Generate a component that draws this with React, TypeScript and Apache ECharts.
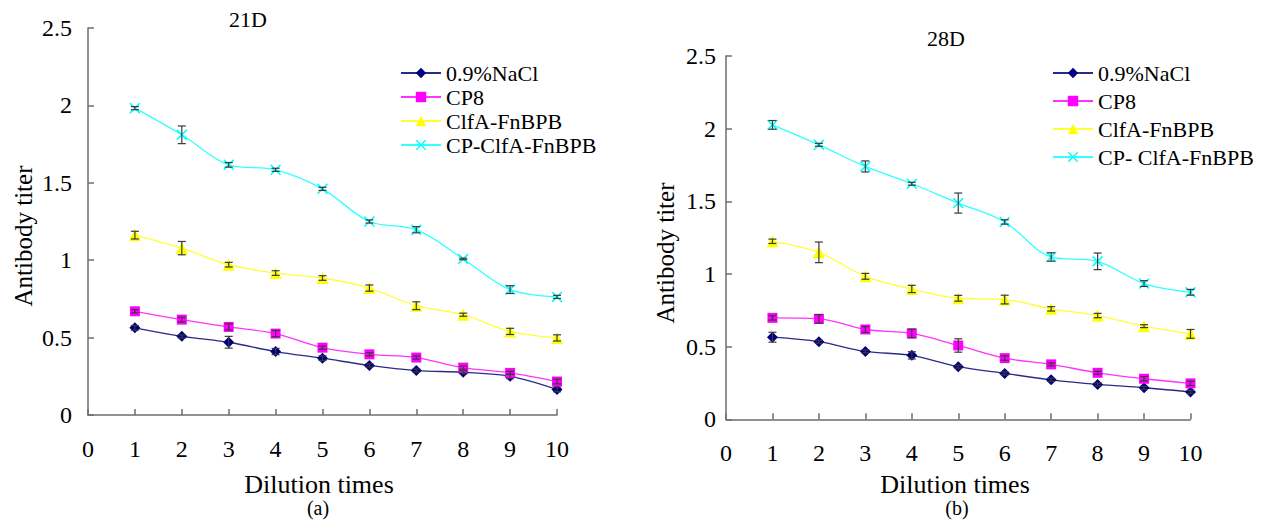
import React, { useEffect, useRef } from "react";
import * as echarts from "echarts";

const dilution = [1, 2, 3, 4, 5, 6, 7, 8, 9, 10];
const xTicks = [0, 1, 2, 3, 4, 5, 6, 7, 8, 9, 10];
const yTicks = [0, 0.5, 1, 1.5, 2, 2.5];

const namesLeft = ["0.9%NaCl", "CP8", "ClfA-FnBPB", "CP-ClfA-FnBPB"];
const namesRight = ["0.9%NaCl", "CP8", "ClfA-FnBPB", "CP- ClfA-FnBPB"];

// 21D
const naCl21 = [0.563, 0.508, 0.47, 0.41, 0.367, 0.32, 0.287, 0.276, 0.25, 0.165];
const cp8_21 = [0.67, 0.616, 0.569, 0.526, 0.435, 0.392, 0.371, 0.306, 0.272, 0.216];
const clfa21 = [1.162, 1.078, 0.971, 0.917, 0.885, 0.82, 0.706, 0.648, 0.54, 0.498];
const cpClfa21 = [1.982, 1.81, 1.616, 1.584, 1.461, 1.25, 1.197, 1.008, 0.81, 0.763];
const naClErr21 = [0.015, 0.01, 0.038, 0.02, 0.015, 0.01, 0.01, 0.01, 0.015, 0.015];
const cp8Err21 = [0.01, 0.015, 0.02, 0.02, 0.01, 0.01, 0.01, 0.01, 0.01, 0.015];
const clfaErr21 = [0.025, 0.043, 0.015, 0.015, 0.015, 0.02, 0.025, 0.01, 0.02, 0.02];
const cpClfaErr21 = [0.01, 0.057, 0.015, 0.01, 0.01, 0.01, 0.02, 0.005, 0.025, 0.01];

// 28D
const naCl28 = [0.565, 0.534, 0.467, 0.44, 0.362, 0.316, 0.272, 0.24, 0.217, 0.188];
const cp8_28 = [0.698, 0.691, 0.618, 0.591, 0.508, 0.421, 0.378, 0.32, 0.279, 0.247];
const clfa28 = [1.225, 1.149, 0.984, 0.897, 0.833, 0.824, 0.76, 0.714, 0.641, 0.588];
const cpClfa28 = [2.026, 1.889, 1.74, 1.621, 1.488, 1.358, 1.117, 1.087, 0.934, 0.874];
const naClErr28 = [0.034, 0.01, 0.01, 0.025, 0.01, 0.01, 0.01, 0.01, 0.01, 0.01];
const cp8Err28 = [0.015, 0.03, 0.02, 0.03, 0.046, 0.015, 0.01, 0.01, 0.015, 0.015];
const clfaErr28 = [0.015, 0.071, 0.02, 0.025, 0.02, 0.03, 0.015, 0.015, 0.01, 0.03];
const cpClfaErr28 = [0.03, 0.01, 0.038, 0.01, 0.069, 0.015, 0.029, 0.057, 0.02, 0.02];

const FONT = "'Liberation Serif', 'Times New Roman', serif";
const colors = ["#000080", "#ff00ff", "#ffff00", "#00ffff"];
const lineColors = ["#2a2a8a", "#ff33ff", "#ffff33", "#33ffff"];
const xSym = "path://M0,1 L1,0 L5,4 L9,0 L10,1 L6,5 L10,9 L9,10 L5,6 L1,10 L0,9 L4,5 Z";
const symbols = ["diamond", "rect", "triangle", xSym];
const symbolSizes = [11, 10, 12, 11];

function lineSeries(name: string, idx: number, values: number[], axis: number) {
  return {
    type: "line",
    name,
    xAxisIndex: axis,
    yAxisIndex: axis,
    data: dilution.map((d, i) => [d, values[i]]),
    smooth: 0.35,
    symbol: symbols[idx],
    symbolSize: symbolSizes[idx],
    showAllSymbol: true,
    lineStyle: { color: lineColors[idx], width: 1.3 },
    itemStyle: { color: colors[idx] },
    z: 2,
  };
}

function errSeries(values: number[], errs: number[], axis: number) {
  return {
    type: "custom",
    xAxisIndex: axis,
    yAxisIndex: axis,
    data: dilution.map((d, i) => [d, values[i], errs[i]]),
    encode: { x: 0, y: 1 },
    z: 4,
    silent: true,
    renderItem: (params: any, api: any) => {
      const x = api.value(0);
      const y = api.value(1);
      const e = api.value(2);
      const top = api.coord([x, y + e]);
      const bot = api.coord([x, y - e]);
      const st = { stroke: "#3a3a3a", lineWidth: 1.2 };
      const hw = 4;
      return {
        type: "group",
        children: [
          { type: "line", shape: { x1: top[0], y1: top[1], x2: bot[0], y2: bot[1] }, style: st },
          { type: "line", shape: { x1: top[0] - hw, y1: top[1], x2: top[0] + hw, y2: top[1] }, style: st },
          { type: "line", shape: { x1: bot[0] - hw, y1: bot[1], x2: bot[0] + hw, y2: bot[1] }, style: st },
        ],
      };
    },
  };
}

const axisLineStyle = { color: "#6e6e6e", width: 1.5 };

function xAxis(grid: number) {
  return {
    type: "value",
    gridIndex: grid,
    min: xTicks[0],
    max: xTicks[xTicks.length - 1],
    interval: 1,
    axisLine: { show: true, onZero: false, lineStyle: axisLineStyle },
    axisTick: { show: true, inside: true, length: 6, lineStyle: axisLineStyle },
    splitLine: { show: false },
    axisLabel: { color: "#000", fontFamily: FONT, fontSize: 24, margin: 22 },
  };
}

function yAxis(grid: number, margin: number) {
  return {
    type: "value",
    gridIndex: grid,
    min: yTicks[0],
    max: yTicks[yTicks.length - 1],
    interval: 0.5,
    axisLine: { show: true, onZero: false, lineStyle: axisLineStyle },
    axisTick: { show: true, inside: true, length: 6, lineStyle: axisLineStyle },
    splitLine: { show: false },
    axisLabel: { color: "#000", fontFamily: FONT, fontSize: 24, margin },
  };
}

function legend(names: string[], left: number, top: number, gap: number) {
  return {
    orient: "vertical",
    left,
    top,
    data: names,
    itemWidth: 40,
    itemHeight: 13,
    itemGap: gap,
    textStyle: { fontFamily: FONT, fontSize: 22, color: "#000", lineHeight: 22 },
  };
}

function txt(text: string, x: number, y: number, size: number, rotation = 0) {
  return {
    type: "text",
    x,
    y,
    rotation,
    style: {
      text,
      fontFamily: FONT,
      fontSize: size,
      fill: "#000",
      align: "center",
      verticalAlign: "middle",
    },
  };
}

export default function App() {
  const ref = useRef<HTMLDivElement>(null);
  useEffect(() => {
    if (!ref.current) return;
    const chart = echarts.init(ref.current, undefined, { renderer: "svg" });
    const left = [naCl21, cp8_21, clfa21, cpClfa21];
    const leftErr = [naClErr21, cp8Err21, clfaErr21, cpClfaErr21];
    const right = [naCl28, cp8_28, clfa28, cpClfa28];
    const rightErr = [naClErr28, cp8Err28, clfaErr28, cpClfaErr28];
    const series: any[] = [];
    left.forEach((v, i) => series.push(lineSeries(namesLeft[i], i, v, 0)));
    right.forEach((v, i) => series.push(lineSeries(namesRight[i], i, v, 1)));
    left.forEach((v, i) => series.push(errSeries(v, leftErr[i], 0)));
    right.forEach((v, i) => series.push(errSeries(v, rightErr[i], 1)));
    chart.setOption({
      animation: false,
      backgroundColor: "#fff",
      textStyle: { fontFamily: FONT },
      grid: [
        { left: 88, top: 28, width: 469, height: 387 },
        { left: 726, top: 56, width: 464.5, height: 363.3 },
      ],
      xAxis: [xAxis(0), xAxis(1)],
      yAxis: [yAxis(0, 16), yAxis(1, 10)],
      legend: [legend(namesLeft, 395, 57, 2), legend(namesRight, 1047, 57, 6)],
      series,
      graphic: [
        txt("21D", 248, 19, 22),
        txt("28D", 946, 38, 22),
        txt("Antibody titer", 23, 236, 25, Math.PI / 2),
        txt("Antibody titer", 665, 253, 25, Math.PI / 2),
        txt("Dilution times", 319, 484, 26),
        txt("Dilution times", 955, 484, 26),
        txt("(a)", 318, 508, 20),
        txt("(b)", 957, 508, 20),
      ],
    });
    return () => chart.dispose();
  }, []);
  return (
    <div
      ref={ref}
      style={{ position: "fixed", left: 0, top: 0, width: 1265, height: 520 }}
    />
  );
}
